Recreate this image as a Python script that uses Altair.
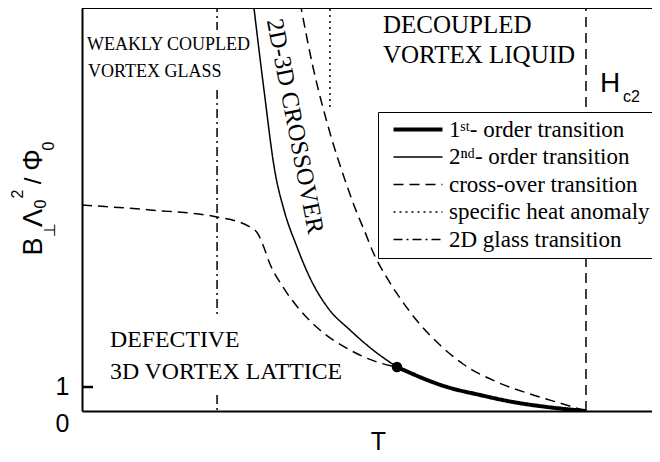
import altair as alt
import pandas as pd

# ---------------- data ----------------
KINDS = ["1ˢᵗ- order transition", "2ⁿᵈ- order transition", "cross-over transition",
         "specific heat anomaly", "2D glass transition"]

first_T = [0.625, 0.7242, 0.7897, 0.8552, 0.9226, 1.0]
first_B = [1.833, 1.0, 0.667, 0.375, 0.167, 0.0]

second_T = [0.3393, 0.3611, 0.3829, 0.4008, 0.4266, 0.4524, 0.4881, 0.5317, 0.5774, 0.625]
second_B = [17.125, 13.375, 9.958, 8.375, 6.833, 5.542, 4.292, 3.375, 2.542, 1.833]

upper_T = [0.4325, 0.4583, 0.4921, 0.5218, 0.5456, 0.5615, 0.5774, 0.6052, 0.6310,
           0.6667, 0.7103, 0.7560, 0.8234, 0.8889, 0.9544, 1.0]
upper_B = [17.042, 14.333, 11.583, 9.625, 8.25, 7.458, 6.625, 5.542, 4.708,
           3.708, 2.75, 1.958, 1.208, 0.708, 0.292, 0.0]

lower_T = [0.0, 0.1349, 0.2679, 0.3333, 0.3492, 0.3591, 0.3730, 0.3988, 0.4325,
           0.4722, 0.5317, 0.5853, 0.625]
lower_B = [8.583, 8.375, 8.083, 7.667, 7.375, 6.917, 6.125, 5.167, 4.208,
           3.375, 2.542, 2.042, 1.833]

hc2_T = [1.0, 1.0]
hc2_B = [0.0, 17.0]
heat_T = [0.492, 0.492]
heat_B = [12.67, 17.0]
glass_T = 0.268
glass_segments = [[17.0, 15.875], [13.375, 3.875], [0.667, 0.0]]

dot_T = [0.625]
dot_B = [1.833]

Y_TICKS = [0, 1]
T_MAX = 1.131
B_MAX = 16.79

# ---------------- tables ----------------
def rows_for(seg, kind, Ts, Bs):
    return [dict(seg=seg, kind=kind, T=t, B=b, i=i) for i, (t, b) in enumerate(zip(Ts, Bs))]

curves = pd.DataFrame(
    rows_for("first", KINDS[0], first_T, first_B)
    + rows_for("second", KINDS[1], second_T, second_B)
    + rows_for("upper", KINDS[2], upper_T, upper_B)
    + rows_for("lower", KINDS[2], lower_T, lower_B)
)
vrows = rows_for("hc2", KINDS[2], hc2_T, hc2_B) + rows_for("heat", KINDS[3], heat_T, heat_B)
for k, seg in enumerate(glass_segments):
    vrows += rows_for(f"glass{k}", KINDS[4], [glass_T, glass_T], seg)
verticals = pd.DataFrame(vrows)
dot = pd.DataFrame({"T": dot_T, "B": dot_B})

SERIF = "Liberation Serif"
SANS = "Liberation Sans"
W, H = 570, 403

x_enc = alt.X("T:Q", scale=alt.Scale(domain=[0, T_MAX], nice=False, zero=False),
              axis=alt.Axis(title="T", labels=False, ticks=False, grid=False,
                            domainColor="black", domainWidth=2,
                            titleFont=SANS, titleFontSize=25, titleFontWeight="normal",
                            titleColor="black", titleX=296, titleY=38,
                            titleBaseline="alphabetic", titleAlign="center"))
y_enc = alt.Y("B:Q", scale=alt.Scale(domain=[0, B_MAX], nice=False, zero=False),
              axis=alt.Axis(title=None, values=Y_TICKS, ticks=False, grid=False,
                            domainColor="black", domainWidth=2,
                            labelFont=SANS, labelFontSize=25, labelColor="black",
                            labelPadding=13, labelFlush=False, labelOverlap=False,
                            labelBaseline={"condition": {"test": "datum.value == 0", "value": "top"},
                                           "value": "middle"}))

LEG = alt.Legend(title=None, orient="none", legendX=296, legendY=104, padding=6,
                 rowPadding=3.5, symbolType="M-0.333,0H7.83", symbolSize=144,
                 labelOffset=42, labelFont=SERIF, labelFontSize=23, labelLimit=400,
                 labelColor="black", strokeColor="black", fillColor="white",
                 symbolStrokeColor="black", symbolFillColor="transparent")

dash_enc = alt.StrokeDash("kind:N", scale=alt.Scale(domain=KINDS,
                          range=[[1, 0], [1, 0], [10, 6], [2, 4], [9, 4, 2, 4]]), legend=LEG)
width_enc = alt.StrokeWidth("kind:N", scale=alt.Scale(type="ordinal", domain=KINDS,
                            range=[4, 1.5, 1.5, 1.5, 1.5]), legend=LEG)

curve_layer = alt.Chart(curves).mark_line(interpolate="monotone", clip=True, color="black").encode(
    x=x_enc, y=y_enc, detail="seg:N", order="i:Q", strokeDash=dash_enc, strokeWidth=width_enc)
vert_layer = alt.Chart(verticals).mark_line(clip=True, color="black").encode(
    x="T:Q", y="B:Q", detail="seg:N", order="i:Q", strokeDash=dash_enc, strokeWidth=width_enc)
dot_layer = alt.Chart(dot).mark_point(filled=True, size=110, color="black", opacity=1).encode(
    x="T:Q", y="B:Q")

blank = alt.Data(values=[{}])
top_border = alt.Chart(blank).mark_rule(color="black", strokeWidth=2).encode(
    x=alt.value(0), x2=alt.value(W), y=alt.value(0))
# inward tick (11 px) at B = 1, pixel row derived from the linear y scale
tick_y = H - Y_TICKS[1] * H / B_MAX
tick_layer = alt.Chart(blank).mark_rule(color="black", strokeWidth=2.5).encode(
    x=alt.value(0), x2=alt.value(11), y=alt.value(tick_y))

def label(txt, t, b, size, font=SERIF, angle=0, align="left", baseline="alphabetic"):
    return alt.Chart(pd.DataFrame({"T": [t], "B": [b]})).mark_text(
        text=txt, font=font, fontSize=size, angle=angle, align=align,
        baseline=baseline, color="black").encode(x="T:Q", y="B:Q")

labels = [
    label("WEAKLY COUPLED", 0.0099, 15.04, 18),
    label("VORTEX GLASS", 0.0119, 13.92, 18),
    label("DECOUPLED", 0.597, 15.75, 25),
    label("VORTEX LIQUID", 0.597, 14.5, 25),
    label("DEFECTIVE", 0.0556, 2.667, 23.8),
    label("3D VORTEX LATTICE", 0.0556, 1.333, 23.8),
    label("2D-3D CROSSOVER", 0.4216, 11.854, 24.5, angle=79, align="center", baseline="middle"),
    label("H", 1.0278, 13.29, 28, font=SANS),
    label("c2", 1.0734, 12.875, 16, font=SANS),
]

def ypiece(txt, px, py, size):
    return alt.Chart(blank).mark_text(text=txt, font=SANS, fontSize=size, angle=270,
                                      align="center", baseline="alphabetic", color="black").encode(
        x=alt.value(px - 82), y=alt.value(py - 8))

ytitle = [
    ypiece("B", 42, 246.5, 27),
    ypiece("⊥", 55, 230, 16),
    ypiece("Λ", 42, 218, 27),
    ypiece("0", 46, 204, 16),
    ypiece("2", 23, 194, 16),
    ypiece("/", 41, 181, 24),
    ypiece("Φ", 42, 160, 27),
    ypiece("0", 54, 146, 16),
]

chart = alt.layer(curve_layer, vert_layer, dot_layer, top_border, tick_layer, *labels, *ytitle).properties(
    width=W, height=H,
    autosize=alt.AutoSizeParams(type="none"),
    padding={"left": 74, "top": 0, "right": 0, "bottom": 43},
).configure_view(stroke=None)

chart.save("out.html", embed_options={"renderer": "svg", "actions": False})
